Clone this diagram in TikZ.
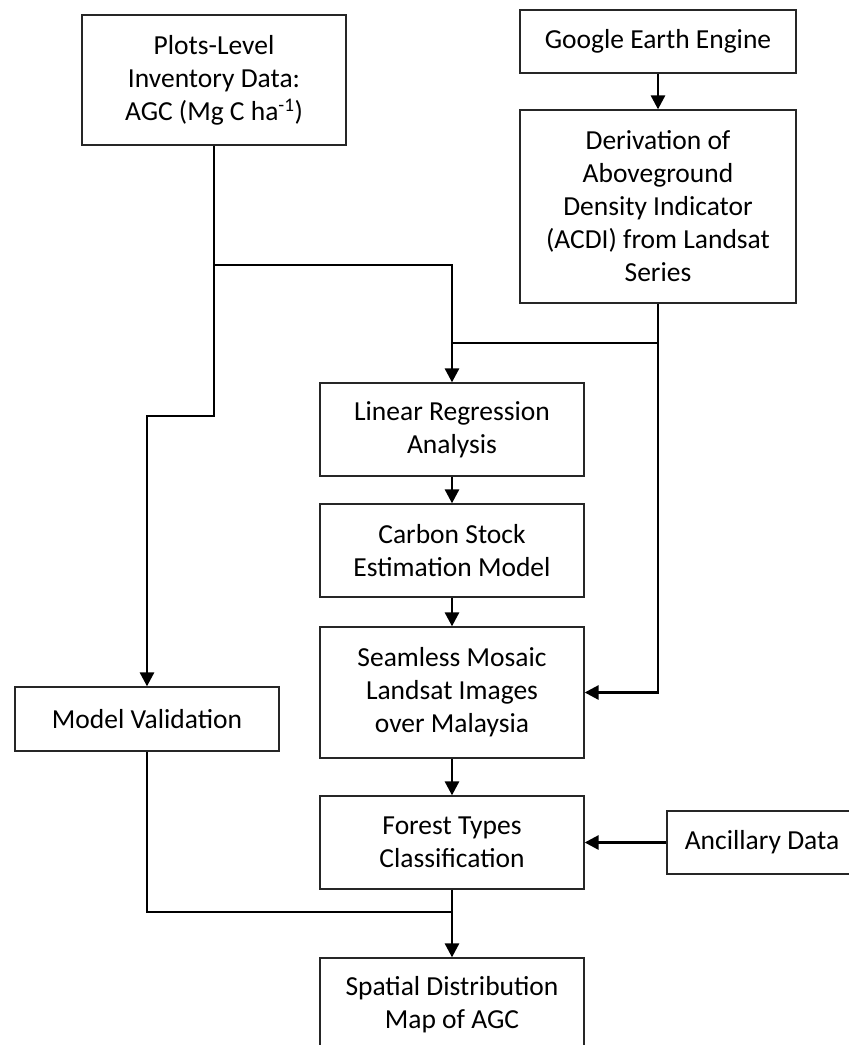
\documentclass[tikz,border=0pt]{standalone}
\usepackage{fontspec}
\setmainfont{Carlito}
\usetikzlibrary{arrows.meta}
\begin{document}
\begin{tikzpicture}[x=1pt,y=-1pt,
  box/.style={draw=black!85, line width=1.3pt, rectangle, align=center, inner sep=0pt,
    font=\fontsize{27.5}{33}\selectfont},
  conn/.style={line width=2.8pt},
  arr/.style={conn,-{Triangle[width=14pt,length=14pt]}}]
\clip (0,0) rectangle (849,1045);
\node[box, minimum width=264pt, minimum height=130pt] (plots) at (214,80)
  {Plots-Level\\Inventory Data:\\AGC (Mg C ha\textsuperscript{-1})};
\node[box, minimum width=276pt, minimum height=63pt] (gee) at (658,41.5)
  {Google Earth Engine};
\node[box, minimum width=276pt, minimum height=193pt] (deriv) at (658,206.5)
  {Derivation of\\Aboveground\\Density Indicator\\(ACDI) from Landsat\\Series};
\node[box, minimum width=264pt, minimum height=93pt] (linear) at (452,429.5)
  {Linear Regression\\Analysis};
\node[box, minimum width=264pt, minimum height=93pt] (carbon) at (452,550.5)
  {Carbon Stock\\Estimation Model};
\node[box, minimum width=264pt, minimum height=131pt] (seam) at (452,692.5)
  {Seamless Mosaic\\Landsat Images\\over Malaysia};
\node[box, minimum width=264pt, minimum height=64pt] (mv) at (147,719)
  {Model Validation};
\node[box, minimum width=190pt, minimum height=63pt] (anc) at (762,842.5)
  {Ancillary Data};
\node[box, minimum width=264pt, minimum height=93pt] (forest) at (452,842.5)
  {Forest Types\\Classification};
\node[box, minimum width=264pt, minimum height=93pt] (spatial) at (452,1004.5)
  {Spatial Distribution\\Map of AGC};
\coordinate (j1) at (214,265);
\coordinate (j2) at (214,416);
\coordinate (j3) at (658,343);
\coordinate (j4) at (452,912);
\draw[conn] (plots.south) -- (j1);
\draw[arr] (j1) -| (linear.north);
\draw[arr] (j1) -- (j2) -| (mv.north);
\draw[arr] (gee.south) -- (deriv.north);
\draw[conn] (deriv.south) -- (j3) -- (j3 -| linear.north);
\draw[arr] (j3) |- (seam.east);
\draw[arr] (linear.south) -- (carbon.north);
\draw[arr] (carbon.south) -- (seam.north);
\draw[arr] (seam.south) -- (forest.north);
\draw[arr] (anc.west) -- (forest.east);
\draw[conn] (mv.south) |- (j4);
\draw[arr] (forest.south) -- (spatial.north);
\end{tikzpicture}
\end{document}
